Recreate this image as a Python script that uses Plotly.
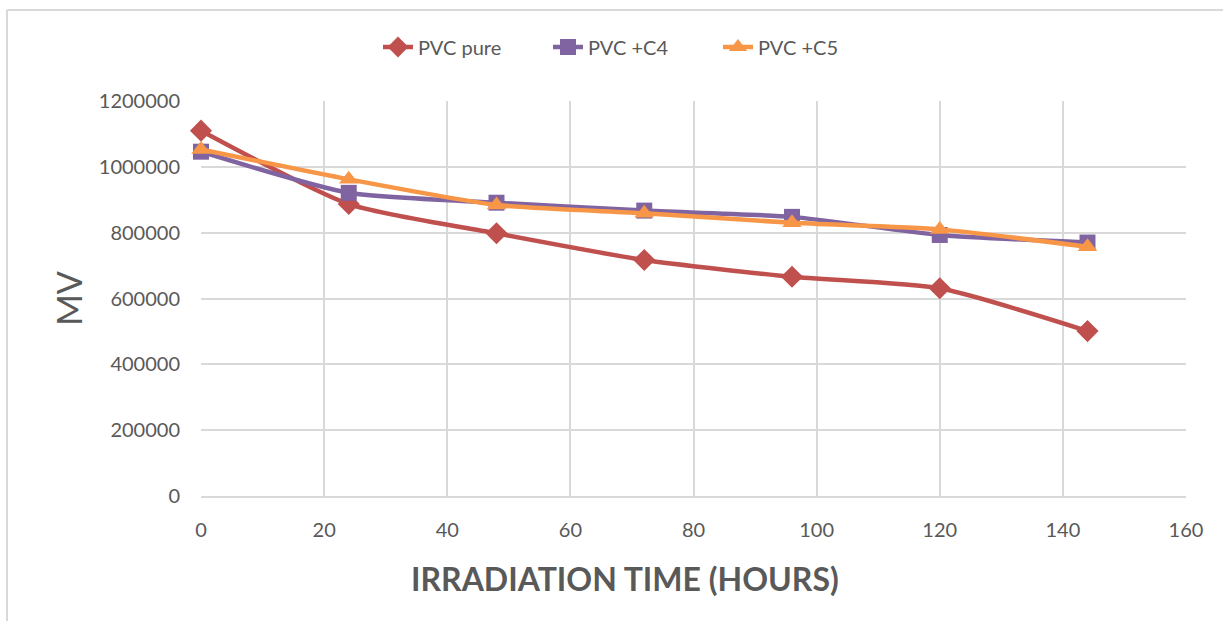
import plotly.graph_objects as go

hours = [0, 24, 48, 72, 96, 120, 144]
pvc_pure = [1110000, 887000, 798000, 717000, 666000, 631000, 501000]
pvc_c4 = [1046000, 921000, 891000, 867000, 848000, 793000, 770000]
pvc_c5 = [1053000, 962000, 884000, 859000, 830000, 810000, 757000]

x_ticks = [0, 20, 40, 60, 80, 100, 120, 140, 160]
y_ticks = [0, 200000, 400000, 600000, 800000, 1000000, 1200000]

FONT = "Lato, Carlito, 'Open Sans', sans-serif"
TXT = "#595959"
GRID = "#D9D9D9"

fig = go.Figure()
fig.add_trace(go.Scatter(x=hours, y=pvc_pure, name="PVC pure", mode="lines+markers",
                         line=dict(color="#C0504D", width=4.5, shape="spline", smoothing=0.6),
                         marker=dict(symbol="diamond", size=17, color="#C0504D"), cliponaxis=False))
fig.add_trace(go.Scatter(x=hours, y=pvc_c4, name="PVC +C4", mode="lines+markers",
                         line=dict(color="#8064A2", width=4.5, shape="spline", smoothing=0.6),
                         marker=dict(symbol="square", size=16, color="#8064A2"), cliponaxis=False))
fig.add_trace(go.Scatter(x=hours, y=pvc_c5, name="PVC +C5", mode="lines+markers",
                         line=dict(color="#F79646", width=4.5, shape="spline", smoothing=0.6),
                         marker=dict(symbol="triangle-up", size=17, color="#F79646"), cliponaxis=False))

L, R, T, B = 201, 37, 101, 125
W, H = 1223, 621
pw, ph = W - L - R, H - T - B

def px(x):
    return (x - L) / pw

def py(y):
    return (H - B - y) / ph

fig.update_layout(
    width=W, height=H,
    margin=dict(l=L, r=R, t=T, b=B),
    paper_bgcolor="white", plot_bgcolor="white",
    font=dict(family=FONT, color=TXT, size=20),
    showlegend=True,
    legend=dict(orientation="h", x=px(633), xanchor="center", y=py(47), yanchor="middle",
                font=dict(size=20, color=TXT), traceorder="normal",
                entrywidth=125, entrywidthmode="pixels"),
    xaxis=dict(range=[0, 160], tickvals=x_ticks, showgrid=True, gridcolor=GRID, gridwidth=1.5,
               zeroline=False, showline=True, linecolor=GRID, linewidth=1.5,
               tickfont=dict(size=20, color=TXT), ticks="", ticklabelstandoff=15),
    yaxis=dict(range=[0, 1200000], tickvals=y_ticks, showgrid=True, gridcolor=GRID, gridwidth=1.5,
               zeroline=False, showline=False, tickformat="d",
               tickfont=dict(size=20, color=TXT), ticks="", ticklabelstandoff=20,
               title=dict(text="MV", font=dict(size=34, color=TXT), standoff=5)),
    annotations=[
        dict(text="<b>IRRADIATION TIME (HOURS)</b>", xref="paper", yref="paper",
             x=px(625), y=py(578), xanchor="center", yanchor="middle", showarrow=False,
             font=dict(size=32, color=TXT)),
    ],
    shapes=[
        dict(type="line", xref="paper", yref="paper", x0=px(7), x1=px(1223), y0=py(10), y1=py(10),
             line=dict(color=GRID, width=2)),
        dict(type="line", xref="paper", yref="paper", x0=px(7), x1=px(7), y0=py(10), y1=py(621),
             line=dict(color=GRID, width=2)),
    ],
)

fig.write_html("out.html")
